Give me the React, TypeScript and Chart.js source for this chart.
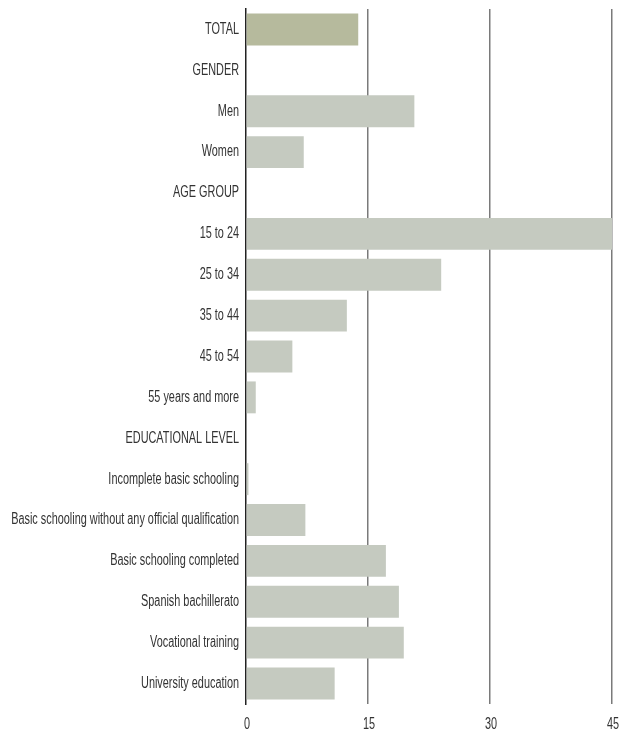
import React, { useEffect, useRef } from "react";
import { Chart, registerables } from "chart.js";

Chart.register(...registerables);

const categories: string[] = [
  "TOTAL",
  "GENDER",
  "Men",
  "Women",
  "AGE GROUP",
  "15 to 24",
  "25 to 34",
  "35 to 44",
  "45 to 54",
  "55 years and more",
  "EDUCATIONAL LEVEL",
  "Incomplete basic schooling",
  "Basic schooling without any official qualification",
  "Basic schooling completed",
  "Spanish bachillerato",
  "Vocational training",
  "University education",
];

const values: (number | null)[] = [
  13.8, null, 20.7, 7.1, null, 45.0, 24.0, 12.4, 5.7, 1.2, null, 0.3, 7.3, 17.2, 18.8, 19.4, 10.9,
];

const xTicks: number[] = [0, 15, 30, 45];

const FONT = "'Liberation Sans', Arial, sans-serif";
const TEXT_COLOR = "#333333";
const SQUEEZE = 0.68;

// Draws the axis labels in a condensed (horizontally squeezed) face, like the original.
const condensedLabels = {
  id: "condensedLabels",
  afterDraw(chart: any) {
    const ctx = chart.ctx as CanvasRenderingContext2D;
    const yScale = chart.scales.y;
    const xScale = chart.scales.x;
    ctx.save();
    ctx.fillStyle = TEXT_COLOR;
    ctx.font = `16px ${FONT}`;
    ctx.textBaseline = "middle";
    ctx.textAlign = "right";
    const labels: string[] = chart.data.labels;
    labels.forEach((lab, i) => {
      const y = yScale.getPixelForValue(i);
      ctx.save();
      ctx.translate(yScale.right - 7, y);
      ctx.scale(SQUEEZE, 1);
      ctx.fillText(lab, 0, 0);
      ctx.restore();
    });
    ctx.textAlign = "center";
    xTicks.forEach((v) => {
      const x = xScale.getPixelForValue(v);
      ctx.save();
      ctx.translate(x + 1, chart.chartArea.bottom + 20.5);
      ctx.scale(SQUEEZE, 1);
      ctx.fillText(String(v), 0, 0);
      ctx.restore();
    });
    ctx.restore();
  },
};

export default function App() {
  const ref = useRef<HTMLCanvasElement | null>(null);

  useEffect(() => {
    if (!ref.current) return;
    const chart = new Chart(ref.current, {
      type: "bar",
      data: {
        labels: categories,
        datasets: [
          {
            data: values,
            backgroundColor: categories.map((c, i) => (i === 0 ? "#b6ba9d" : "#c5cac0")),
            borderWidth: 0,
            barPercentage: 0.78,
            categoryPercentage: 1,
          },
        ],
      },
      options: {
        indexAxis: "y",
        animation: false,
        responsive: false,
        layout: { padding: { top: 9, right: 8, bottom: 0, left: 0 } },
        plugins: {
          legend: { display: false },
          tooltip: { enabled: false },
        },
        scales: {
          x: {
            min: 0,
            max: 45,
            afterBuildTicks: (scale: any) => {
              scale.ticks = xTicks.map((v) => ({ value: v }));
            },
            afterFit: (scale: any) => {
              scale.height = 27;
            },
            ticks: { display: false },
            grid: {
              drawTicks: false,
              color: (ctx: any) => (ctx.tick && ctx.tick.value === 0 ? "rgba(0,0,0,0)" : "#7a7a7a"),
              lineWidth: 1.5,
            },
            border: { display: false },
          },
          y: {
            afterFit: (scale: any) => {
              scale.width = 246;
            },
            ticks: { display: false, autoSkip: false },
            grid: { display: false, drawTicks: false },
            border: { display: true, color: "#222222", width: 1.5 },
          },
        },
      },
      plugins: [condensedLabels],
    });
    return () => chart.destroy();
  }, []);

  return (
    <div style={{ position: "absolute", left: 0, top: 0, width: 620, height: 731, background: "#ffffff" }}>
      <canvas ref={ref} width={620} height={731} />
    </div>
  );
}
